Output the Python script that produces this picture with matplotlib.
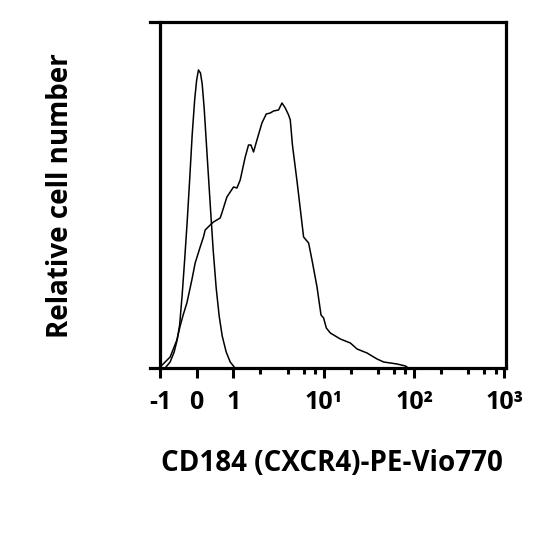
import numpy as np
import matplotlib
matplotlib.use('Agg')
import matplotlib.pyplot as plt

# histogram traces (x = fluorescence, y = relative count)
unstained_x = [-0.863, -0.726, -0.616, -0.534, -0.466, -0.397, -0.329, -0.260, -0.192,
               -0.123, -0.055, 0.0, 0.049, 0.104, 0.151, 0.205, 0.260, 0.315, 0.384,
               0.452, 0.534, 0.616, 0.699, 0.808, 0.918, 1.026]
unstained_y = [0, 6, 16, 28, 43, 73, 108, 146, 188, 233, 268, 288, 298, 295, 284, 260,
               228, 196, 156, 118, 80, 52, 32, 16, 6, 1]

stained_x = [-1.0, -0.973, -0.863, -0.726, -0.542, -0.452, -0.370, -0.268, -0.132, -0.041,
             0.096, 0.186, 0.233, 0.370, 0.460, 0.644, 0.690, 0.827, 0.918, 1.008,
             1.099, 1.195, 1.358, 1.477, 1.570, 1.678, 1.830, 2.078, 2.320, 2.569,
             2.795, 3.175, 3.462, 3.766, 4.098, 4.279, 4.52, 5.075, 6.004, 6.823,
             7.438, 8.452, 9.359, 10.0, 10.71, 11.86, 15.31, 19.76, 23.44, 30.24,
             32.89, 39.02, 46.18, 65.0, 80.3, 86.7]
stained_y = [0, 2, 6, 11, 28, 42, 53, 65, 88, 105, 121, 131, 138, 143, 146, 150, 155,
             171, 176, 181, 180, 188, 211, 223, 223, 216, 228, 245, 254, 255, 257, 258,
             265, 260, 253, 248, 223, 187, 131, 125, 108, 81, 53, 50, 40, 35, 29, 25,
             19, 15, 13, 9, 6, 4, 2, 0]

tick_vals = [-1, 0, 1, 10, 100, 1000]
tick_labels = ['-1', '0', '1', '10¹', '10²', '10³']
minor_vals = [2, 4, 6, 8, 20, 40, 60, 80, 200, 400, 600, 800]

# biexponential-like axis: linear between -1 and 1, log outside
D = 2.474


def fwd(x):
    x = np.asarray(x, dtype=float)
    a = np.abs(x)
    return np.where(a <= 1, x, np.sign(x) * (1 + D * np.log10(np.maximum(a, 1))))


def inv(u):
    u = np.asarray(u, dtype=float)
    a = np.abs(u)
    return np.where(a <= 1, u, np.sign(u) * 10 ** ((np.maximum(a, 1) - 1) / D))


plt.rcParams['font.family'] = ['Open Sans', 'DejaVu Sans']

fig = plt.figure(figsize=(5.4, 5.4), dpi=100)
ax = fig.add_axes([0.278, 0.3185, 0.659, 0.6408])
ax.set_xscale('function', functions=(fwd, inv))

ax.plot(unstained_x, unstained_y, color='black', lw=1.1)
ax.plot(stained_x, stained_y, color='black', lw=1.1)

ax.set_xlim(-1.29, 1040)
ax.set_ylim(0, 346)

for s in ax.spines.values():
    s.set_linewidth(2.3)
ax.spines['left'].set_position(('data', -1))

ax.set_xticks(tick_vals)
ax.set_xticklabels(tick_labels, fontsize=18, fontweight='bold')
ax.set_xticks(minor_vals, minor=True)
ax.tick_params(axis='x', which='major', direction='out', length=7, width=2.2, pad=9)
ax.tick_params(axis='x', which='minor', direction='out', length=4, width=2.2)
ax.set_yticks([])

ax.set_xlabel('CD184 (CXCR4)-PE-Vio770', fontsize=20, fontweight='bold')
ax.set_ylabel('Relative cell number', fontsize=20, fontweight='bold')
ax.xaxis.set_label_coords(0.511, -0.235)
ax.yaxis.set_label_coords(-0.212, 0.497)

fig.savefig('out.png', dpi=100)
